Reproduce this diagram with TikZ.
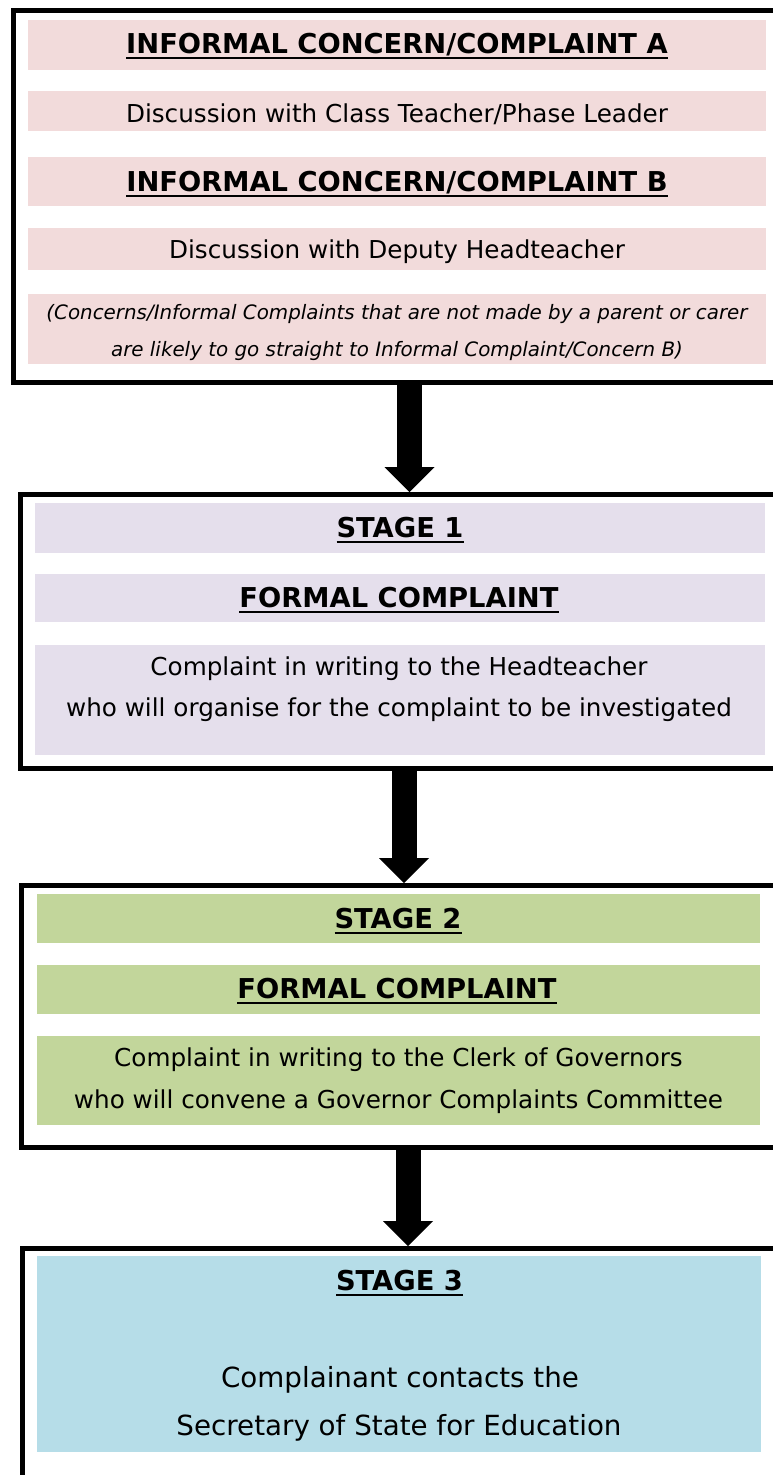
\documentclass[tikz,border=0pt]{standalone}
\usepackage{fontspec}
\setmainfont{DejaVu Sans}
\usetikzlibrary{arrows.meta}
\definecolor{pinkb}{HTML}{F2DBDB}
\definecolor{lavb}{HTML}{E5DFEC}
\definecolor{greenb}{HTML}{C2D69B}
\definecolor{blueb}{HTML}{B6DDE8}
\newsavebox\hulbox
\newcommand\hul[1]{\sbox\hulbox{#1}\rlap{\usebox\hulbox}\rule[-4.6pt]{\wd\hulbox}{1.9pt}}
\def\pxu{0.75pt}
\tikzset{
  outerbox/.style={draw=black, line width=3.75pt, fill=none, anchor=north west, inner sep=0pt},
  band/.style={fill=#1, draw=none, anchor=north west, inner sep=0pt},
  head/.style={anchor=base, inner sep=0pt, font=\fontsize{20.5}{24}\selectfont\bfseries},
  body/.style={anchor=base, inner sep=0pt, font=\fontsize{18.5}{22}\selectfont},
  note/.style={anchor=base, inner sep=0pt, font=\fontsize{14.9}{18}\selectfont\itshape},
  bigbody/.style={anchor=base, inner sep=0pt, font=\fontsize{20.8}{25}\selectfont},
  flowarrow/.style={line width=18.75pt, -{Triangle[width=37.5pt,length=18.75pt,line width=0pt]}}
}
\begin{document}
\begin{tikzpicture}[x=0.75pt,y=-0.75pt]
\useasboundingbox (0,0) rectangle (773,1475);
\clip (0,0) rectangle (773,1475);
% outer boxes
\node[outerbox, minimum width=798*\pxu, minimum height=372*\pxu] (box1) at (10.5,8) {};
\node[outerbox, minimum width=772*\pxu, minimum height=274*\pxu] (box2) at (18,492) {};
\node[outerbox, minimum width=778*\pxu, minimum height=262*\pxu] (box3) at (19,883) {};
\node[outerbox, minimum width=776*\pxu, minimum height=300*\pxu] (box4) at (20,1246) {};
% bands box 1
\node[band=pinkb, minimum width=738*\pxu, minimum height=50*\pxu] (b1a) at (28,20) {};
\node[band=pinkb, minimum width=738*\pxu, minimum height=40*\pxu] (b1b) at (28,91) {};
\node[band=pinkb, minimum width=738*\pxu, minimum height=49*\pxu] (b1c) at (28,157) {};
\node[band=pinkb, minimum width=738*\pxu, minimum height=42*\pxu] (b1d) at (28,228) {};
\node[band=pinkb, minimum width=738*\pxu, minimum height=70*\pxu] (b1e) at (28,294) {};
% bands box 2
\node[band=lavb, minimum width=730*\pxu, minimum height=50*\pxu] (b2a) at (35,503) {};
\node[band=lavb, minimum width=730*\pxu, minimum height=48*\pxu] (b2b) at (35,574) {};
\node[band=lavb, minimum width=730*\pxu, minimum height=110*\pxu] (b2c) at (35,645) {};
% bands box 3
\node[band=greenb, minimum width=723*\pxu, minimum height=49*\pxu] (b3a) at (37,894) {};
\node[band=greenb, minimum width=723*\pxu, minimum height=49*\pxu] (b3b) at (37,965) {};
\node[band=greenb, minimum width=723*\pxu, minimum height=89*\pxu] (b3c) at (37,1036) {};
% band box 4
\node[band=blueb, minimum width=724*\pxu, minimum height=196*\pxu] (b4a) at (37,1256) {};
% texts box 1
\node[head] (t1a) at (397,53) {\hul{INFORMAL CONCERN/COMPLAINT A}};
\node[body] (t1b) at (397,122) {Discussion with Class Teacher/Phase Leader};
\node[head] (t1c) at (397,191) {\hul{INFORMAL CONCERN/COMPLAINT B}};
\node[body] (t1d) at (397,258) {Discussion with Deputy Headteacher};
\node[note] (t1e) at (397,319) {(Concerns/Informal Complaints that are not made by a parent or carer};
\node[note] (t1f) at (397,356) {are likely to go straight to Informal Complaint/Concern B)};
% texts box 2
\node[head] (t2a) at (400,537) {\hul{STAGE 1}};
\node[head] (t2b) at (399,607) {\hul{FORMAL COMPLAINT}};
\node[body] (t2c) at (399,675) {Complaint in writing to the Headteacher};
\node[body] (t2d) at (399,716) {who will organise for the complaint to be investigated};
% texts box 3
\node[head] (t3a) at (398,928) {\hul{STAGE 2}};
\node[head] (t3b) at (397,998) {\hul{FORMAL COMPLAINT}};
\node[body] (t3c) at (398.5,1066) {Complaint in writing to the Clerk of Governors};
\node[body] (t3d) at (398.5,1108) {who will convene a Governor Complaints Committee};
% texts box 4
\node[head] (t4a) at (399.5,1290) {\hul{STAGE 3}};
\node[bigbody] (t4b) at (400,1387) {Complainant contacts the};
\node[bigbody] (t4c) at (399,1435) {Secretary of State for Education};
% arrows
\coordinate (ax1) at (409.5,0);
\coordinate (ax2) at (404,0);
\coordinate (ax3) at (408,0);
\draw[flowarrow] (box1.south -| ax1) -- (box2.north -| ax1);
\draw[flowarrow] (box2.south -| ax2) -- (box3.north -| ax2);
\draw[flowarrow] (box3.south -| ax3) -- (box4.north -| ax3);
\end{tikzpicture}
\end{document}
